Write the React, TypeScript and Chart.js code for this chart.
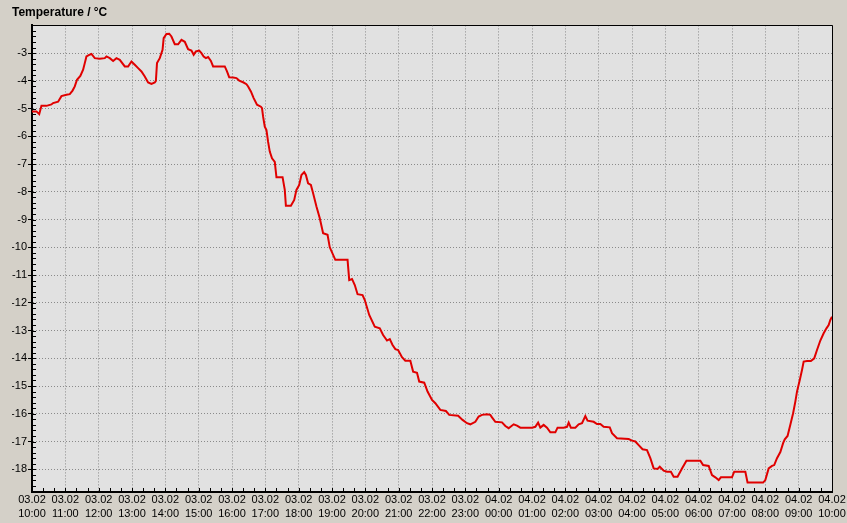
import React, { useEffect, useRef } from 'react';
import { Chart, registerables } from 'chart.js';

Chart.register(...registerables);

// minutes after 03.02 10:00
const minutesSince10 = [
  0, 8, 13, 17, 26, 35, 38, 47, 53, 62,
  68, 73, 77, 81, 87, 92, 95, 98, 103, 107,
  113, 122, 131, 134, 140, 146, 152, 158, 167, 173,
  179, 185, 191, 197, 203, 209, 215, 221, 223, 225,
  230, 235, 237, 242, 247, 251, 257, 263, 269, 275,
  281, 287, 291, 295, 301, 305, 309, 313, 317, 322,
  326, 347, 351, 355, 362, 368, 373, 380, 386, 389,
  394, 399, 405, 412, 414, 416, 419, 422, 425, 428,
  432, 437, 440, 451, 455, 457, 466, 472, 476, 481,
  485, 490, 493, 497, 502, 506, 512, 518, 524, 532,
  536, 546, 568, 571, 576, 581, 586, 595, 599, 607,
  617, 626, 632, 639, 644, 649, 654, 659, 666, 672,
  681, 686, 693, 697, 706, 712, 720, 726, 735, 745,
  751, 767, 775, 783, 789, 798, 804, 810, 819, 825,
  828, 834, 846, 852, 858, 867, 873, 879, 900, 906,
  911, 915, 921, 927, 933, 942, 946, 957, 963, 966,
  970, 978, 984, 990, 996, 1000, 1011, 1017, 1023, 1029,
  1040, 1044, 1053, 1074, 1080, 1086, 1092, 1099, 1107, 1113,
  1119, 1126, 1130, 1137, 1143, 1150, 1155, 1162, 1170, 1178,
  1203, 1208, 1218, 1224, 1230, 1236, 1240, 1260, 1264, 1284,
  1288, 1316, 1320, 1326, 1332, 1336, 1341, 1347, 1352, 1355,
  1360, 1365, 1370, 1374, 1377, 1382, 1386, 1389, 1395, 1402,
  1408, 1413, 1419, 1425, 1430, 1434, 1437, 1440,
];

const temperature = [
  -5.1, -5.1, -5.2, -4.9, -4.9, -4.85, -4.8, -4.75, -4.55, -4.5,
  -4.48, -4.35, -4.2, -3.96, -3.82, -3.6, -3.36, -3.12, -3.06, -3.03,
  -3.18, -3.2, -3.18, -3.12, -3.18, -3.28, -3.18, -3.24, -3.48, -3.48,
  -3.3, -3.42, -3.54, -3.66, -3.84, -4.06, -4.11, -4.06, -4.0, -3.36,
  -3.18, -2.88, -2.46, -2.31, -2.3, -2.4, -2.68, -2.68, -2.52, -2.59,
  -2.86, -2.91, -3.06, -2.94, -2.91, -3.0, -3.12, -3.18, -3.14, -3.28,
  -3.48, -3.48, -3.66, -3.87, -3.88, -3.9, -3.99, -4.05, -4.12, -4.2,
  -4.38, -4.62, -4.86, -4.93, -4.98, -5.29, -5.65, -5.77, -6.2, -6.55,
  -6.79, -6.92, -7.47, -7.47, -7.93, -8.5, -8.5, -8.29, -7.93, -7.75,
  -7.39, -7.29, -7.39, -7.69, -7.75, -8.05, -8.53, -8.95, -9.49, -9.55,
  -10.0, -10.45, -10.45, -11.18, -11.14, -11.36, -11.69, -11.72, -11.9, -12.44,
  -12.86, -12.92, -13.16, -13.36, -13.31, -13.52, -13.67, -13.7, -13.96, -14.09,
  -14.09, -14.48, -14.52, -14.84, -14.88, -15.2, -15.5, -15.62, -15.86, -15.9,
  -16.04, -16.07, -16.22, -16.34, -16.38, -16.29, -16.1, -16.04, -16.02, -16.04,
  -16.13, -16.29, -16.31, -16.44, -16.52, -16.38, -16.43, -16.5, -16.5, -16.47,
  -16.32, -16.5, -16.4, -16.5, -16.67, -16.67, -16.5, -16.5, -16.47, -16.32,
  -16.5, -16.5, -16.38, -16.34, -16.08, -16.25, -16.29, -16.37, -16.37, -16.47,
  -16.49, -16.7, -16.88, -16.91, -16.97, -17.0, -17.13, -17.28, -17.31, -17.6,
  -17.97, -17.99, -17.91, -18.05, -18.09, -18.09, -18.27, -18.27, -17.97, -17.69,
  -17.69, -17.85, -17.88, -18.21, -18.29, -18.39, -18.29, -18.29, -18.09, -18.09,
  -18.48, -18.48, -18.39, -17.97, -17.88, -17.85, -17.6, -17.38, -17.06, -16.92,
  -16.8, -16.4, -15.98, -15.56, -15.2, -14.78, -14.42, -14.12, -14.1, -14.1,
  -14.0, -13.7, -13.36, -13.1, -12.92, -12.8, -12.62, -12.5,
];

const xTickMinutes = [
  0, 60, 120, 180, 240, 300, 360, 420, 480, 540, 600, 660, 720,
  780, 840, 900, 960, 1020, 1080, 1140, 1200, 1260, 1320, 1380, 1440,
];
const xTickDates = [
  '03.02', '03.02', '03.02', '03.02', '03.02', '03.02', '03.02', '03.02', '03.02', '03.02', '03.02', '03.02', '03.02', '03.02',
  '04.02', '04.02', '04.02', '04.02', '04.02', '04.02', '04.02', '04.02', '04.02', '04.02', '04.02',
];
const xTickTimes = [
  '10:00', '11:00', '12:00', '13:00', '14:00', '15:00', '16:00', '17:00', '18:00', '19:00', '20:00', '21:00', '22:00',
  '23:00', '00:00', '01:00', '02:00', '03:00', '04:00', '05:00', '06:00', '07:00', '08:00', '09:00', '10:00',
];
const yTicks = [-18, -17, -16, -15, -14, -13, -12, -11, -10, -9, -8, -7, -6, -5, -4, -3];

const Y_MIN = -18.82;
const Y_MAX = -2;
const X_MINOR_STEP = 20;
const Y_MINOR_STEP = 0.2;

const FONT = "'Liberation Sans', Arial, sans-serif";

const framePlugin = {
  id: 'frame',
  beforeDraw(chart: any) {
    const { ctx, chartArea: a } = chart;
    ctx.save();
    ctx.fillStyle = '#d4d0c8';
    ctx.fillRect(0, 0, chart.width, chart.height);
    ctx.fillStyle = '#e1e1e1';
    ctx.fillRect(a.left, a.top, a.right - a.left, a.bottom - a.top);
    ctx.restore();
  },
  afterDraw(chart: any) {
    const { ctx, chartArea: a, scales } = chart;
    ctx.save();
    ctx.strokeStyle = '#000';
    ctx.lineWidth = 1;
    ctx.beginPath();
    ctx.moveTo(Math.round(a.left), Math.round(a.top) + 0.5);
    ctx.lineTo(Math.round(a.right) + 0.5, Math.round(a.top) + 0.5);
    ctx.lineTo(Math.round(a.right) + 0.5, Math.round(a.bottom));
    ctx.stroke();
    // minor ticks inside the plot
    ctx.beginPath();
    const xs = scales.x;
    for (let m = 0; m <= xs.max; m += X_MINOR_STEP) {
      const px = Math.round(xs.getPixelForValue(m)) + 0.5;
      ctx.moveTo(px, a.bottom);
      ctx.lineTo(px, a.bottom - 4);
    }
    const ys = scales.y;
    for (let k = 0; ; k++) {
      const v = -18 + k * Y_MINOR_STEP;
      if (v > Y_MAX) break;
      const py = Math.round(ys.getPixelForValue(v)) + 0.5;
      ctx.moveTo(a.left, py);
      ctx.lineTo(a.left + 4, py);
    }
    for (let k = 1; ; k++) {
      const v = -18 - k * Y_MINOR_STEP;
      if (v < Y_MIN) break;
      const py = Math.round(ys.getPixelForValue(v)) + 0.5;
      ctx.moveTo(a.left, py);
      ctx.lineTo(a.left + 4, py);
    }
    ctx.stroke();
    ctx.restore();
  },
};

export default function App() {
  const ref = useRef<HTMLCanvasElement | null>(null);

  useEffect(() => {
    document.body.style.margin = '0';
    const canvas = ref.current;
    if (!canvas) return;
    const chart = new Chart(canvas, {
      type: 'line',
      data: {
        datasets: [
          {
            data: minutesSince10.map((m, i) => ({ x: m, y: temperature[i] })),
            borderColor: '#e00000',
            borderWidth: 2,
            pointRadius: 0,
            tension: 0,
            fill: false,
          },
        ],
      },
      options: {
        responsive: false,
        animation: false,
        events: [],
        layout: { padding: { left: 12, right: 15, top: 0, bottom: 0 } },
        plugins: {
          legend: { display: false },
          tooltip: { enabled: false },
          title: {
            display: true,
            text: 'Temperature / °C',
            align: 'start',
            color: '#000',
            font: { family: FONT, size: 12, weight: 'bold' },
            padding: { top: 5, bottom: 6 },
          },
        },
        scales: {
          x: {
            type: 'linear',
            min: 0,
            max: 1440,
            afterBuildTicks: (s: any) => {
              s.ticks = xTickMinutes.map((v) => ({ value: v }));
            },
            afterFit: (s: any) => {
              s.height = 31;
            },
            ticks: {
              autoSkip: false,
              maxRotation: 0,
              minRotation: 0,
              padding: 1,
              color: '#000',
              font: { family: FONT, size: 11, lineHeight: 1.3 },
              callback: (v: any) => {
                const i = xTickMinutes.indexOf(Number(v));
                return i < 0 ? '' : [xTickDates[i], xTickTimes[i]];
              },
            },
            grid: { color: '#8a8a8a', lineWidth: 1, drawTicks: false },
            border: { color: '#000', width: 2, dash: [1, 2] },
          },
          y: {
            type: 'linear',
            min: Y_MIN,
            max: Y_MAX,
            afterBuildTicks: (s: any) => {
              s.ticks = yTicks.map((v) => ({ value: v }));
            },
            afterFit: (s: any) => {
              s.width = 20;
            },
            ticks: {
              padding: 1,
              color: '#000',
              font: { family: FONT, size: 11 },
              callback: (v: any) => String(v),
            },
            grid: { color: '#8a8a8a', lineWidth: 1, tickLength: 4, tickColor: '#000', drawTicks: true },
            border: { color: '#000', width: 2, dash: [1, 2] },
          },
        },
      },
      plugins: [framePlugin],
    } as any);
    return () => chart.destroy();
  }, []);

  return <canvas ref={ref} width={847} height={523} style={{ display: 'block' }} />;
}
